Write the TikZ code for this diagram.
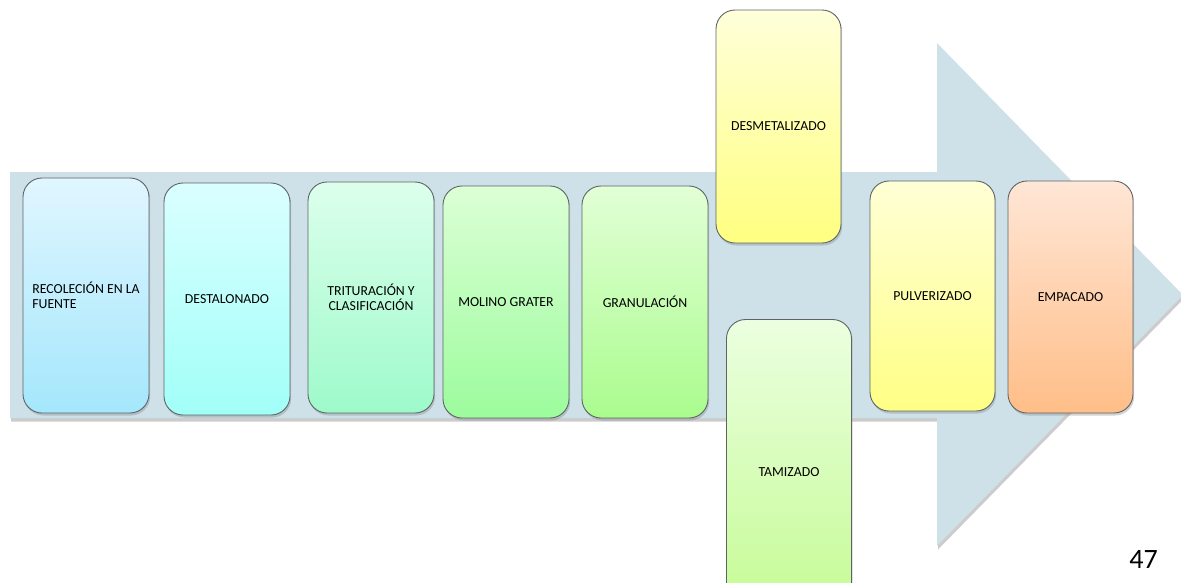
\documentclass[tikz,border=0pt]{standalone}
\usepackage{fontspec}
\setmainfont{Carlito}
\usetikzlibrary{shadows}
\definecolor{arrowfill}{HTML}{CEE1E9}
\definecolor{boxline}{HTML}{5E6466}
\definecolor{aTop}{HTML}{E0F6FF}\definecolor{aBot}{HTML}{A4E7FC}
\definecolor{bTop}{HTML}{DAFFFF}\definecolor{bBot}{HTML}{A1FFF8}
\definecolor{cTop}{HTML}{DCFFEC}\definecolor{cBot}{HTML}{9EFACA}
\definecolor{dTop}{HTML}{DCFFD6}\definecolor{dBot}{HTML}{9CFC9C}
\definecolor{eTop}{HTML}{E2FFD6}\definecolor{eBot}{HTML}{AAFC8E}
\definecolor{fTop}{HTML}{FFFFDA}\definecolor{fBot}{HTML}{FFFF80}
\definecolor{gTop}{HTML}{EBFFE0}\definecolor{gBot}{HTML}{C4FB92}
\definecolor{hTop}{HTML}{FFFFD6}\definecolor{hBot}{HTML}{FFFF85}
\definecolor{iTop}{HTML}{FFE6D6}\definecolor{iBot}{HTML}{FFBE88}
\tikzset{
  stage/.style={rounded corners=19pt, draw=boxline, line width=0.9pt,
    align=center, font=\fontsize{13.8}{15.5}\selectfont, text=black,
    drop shadow={opacity=0.35, shadow xshift=1.2pt, shadow yshift=-2.5pt}},
  bigarrow/.style={fill=arrowfill,
    drop shadow={opacity=0.4, shadow xshift=1pt, shadow yshift=-3.5pt}}
}
\begin{document}
\begin{tikzpicture}[x=1pt,y=-1pt]
\useasboundingbox (0,0) rectangle (1181,582);
% background arrow
\fill[bigarrow] (10,172) -- (937,172) -- (937,43) -- (1183,295)
  -- (937,546) -- (937,418) -- (10,418) -- cycle;
% process stages
\node[stage, minimum width=126pt, minimum height=235pt, top color=aTop, bottom color=aBot,
  align=left] (s1) at (86,295.5) {RECOLECIÓN EN LA\\FUENTE};
\node[stage, minimum width=126pt, minimum height=232pt, top color=bTop, bottom color=bBot] (s2) at (227,299) {DESTALONADO};
\node[stage, minimum width=126pt, minimum height=231pt, top color=cTop, bottom color=cBot] (s3) at (371,297.5) {TRITURACIÓN Y\\CLASIFICACIÓN};
\node[stage, minimum width=126pt, minimum height=232pt, top color=dTop, bottom color=dBot] (s4) at (506,302) {MOLINO GRATER};
\node[stage, minimum width=126pt, minimum height=232pt, top color=eTop, bottom color=eBot] (s5) at (645,302) {GRANULACIÓN};
\node[stage, minimum width=125pt, minimum height=233pt, top color=fTop, bottom color=fBot] (s6) at (778.5,126.5) {DESMETALIZADO};
\node[stage, minimum width=125pt, minimum height=305pt, top color=gTop, bottom color=gBot] (s7) at (789,472) {TAMIZADO};
\node[stage, minimum width=125pt, minimum height=230pt, top color=hTop, bottom color=hBot] (s8) at (932.5,296) {PULVERIZADO};
\node[stage, minimum width=125pt, minimum height=232pt, top color=iTop, bottom color=iBot] (s9) at (1070.5,297) {EMPACADO};
% page number
\node[font=\fontsize{28}{30}\selectfont, anchor=base east, inner sep=0pt] (pg) at (1158,568) {47};
\end{tikzpicture}
\end{document}
